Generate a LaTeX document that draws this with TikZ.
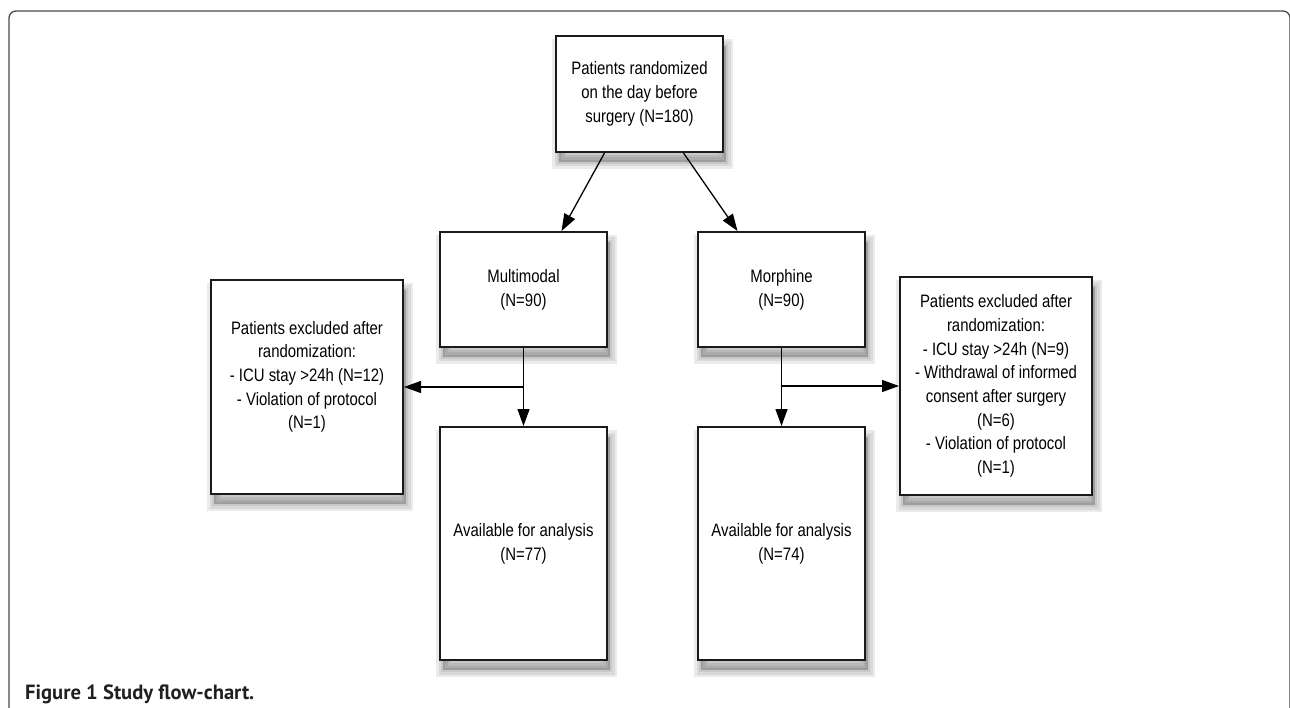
\documentclass[tikz,border=0pt]{standalone}
\usepackage{fontspec}
\setmainfont{Liberation Sans}
\newfontfamily\narrowfont[FakeStretch=0.83]{Liberation Sans}
\newfontfamily\capfont{PT Sans}
\usetikzlibrary{arrows.meta}
\definecolor{boxline}{HTML}{1A1A1A}
\definecolor{framegray}{HTML}{4A4A4A}
\definecolor{captext}{HTML}{231F20}
\tikzset{
  softshadow/.style={preaction={fill=black, draw=black, line width=#1, fill opacity=0.08, draw opacity=0.08,
    transform canvas={shift={(3pt,-10pt)}}}},
  flowbox/.style={draw=boxline, line width=2pt, fill=white, align=center,
    inner sep=0pt, font=\narrowfont\fontsize{18}{23.7}\selectfont,
    softshadow=14pt, softshadow=9pt, softshadow=4pt},
  flowarrow/.style={draw=black, line width=1.3pt, -{Triangle[length=17pt,width=12pt]}}
}
\begin{document}
\begin{tikzpicture}[x=1pt,y=-1pt]
\useasboundingbox (0,0) rectangle (1290,708);
\draw[framegray, line width=1.3pt, rounded corners=7pt] (9,730) -- (9,11) -- (1290,11) -- (1290,730);

\node[flowbox, minimum width=167pt, minimum height=116pt] (top) at (639.5,94)
  {Patients randomized\\on the day before\\surgery (N=180)};
\node[flowbox, minimum width=167pt, minimum height=115pt] (multi) at (523.5,289.5)
  {Multimodal\\(N=90)};
\node[flowbox, minimum width=167pt, minimum height=115pt] (morph) at (781.5,289.5)
  {Morphine\\(N=90)};
\node[flowbox, minimum width=192pt, minimum height=214pt, text depth=24pt] (exclL) at (307,387)
  {Patients excluded after\\randomization:\\- ICU stay >24h (N=12)\\- Violation of protocol\\(N=1)};
\node[flowbox, minimum width=192pt, minimum height=218pt] (exclR) at (996,386)
  {Patients excluded after\\randomization:\\- ICU stay >24h (N=9)\\- Withdrawal of informed\\consent after surgery\\(N=6)\\- Violation of protocol\\(N=1)};
\node[flowbox, minimum width=167pt, minimum height=233pt] (availL) at (523.5,543.5)
  {Available for analysis\\(N=77)};
\node[flowbox, minimum width=167pt, minimum height=233pt] (availR) at (781.5,543.5)
  {Available for analysis\\(N=74)};

\draw[flowarrow] ([xshift=-35pt]top.south) -- ([xshift=38pt]multi.north);
\draw[flowarrow] ([xshift=44pt]top.south) -- ([xshift=-44pt]morph.north);

\draw[flowarrow] (multi.south) -- (availL.north);
\coordinate (jL) at (multi.south |- exclL.east);
\draw[flowarrow] (jL) -- (exclL.east);

\draw[flowarrow] (morph.south) -- (availR.north);
\coordinate (jR) at (morph.south |- exclR.west);
\draw[flowarrow] (jR) -- (exclR.west);

\node[anchor=base west, inner sep=0pt, text=captext, font=\capfont\bfseries\fontsize{20.6}{24}\selectfont] (cap) at (25,699)
  {Figure 1 Study flow-chart.};
\end{tikzpicture}
\end{document}
